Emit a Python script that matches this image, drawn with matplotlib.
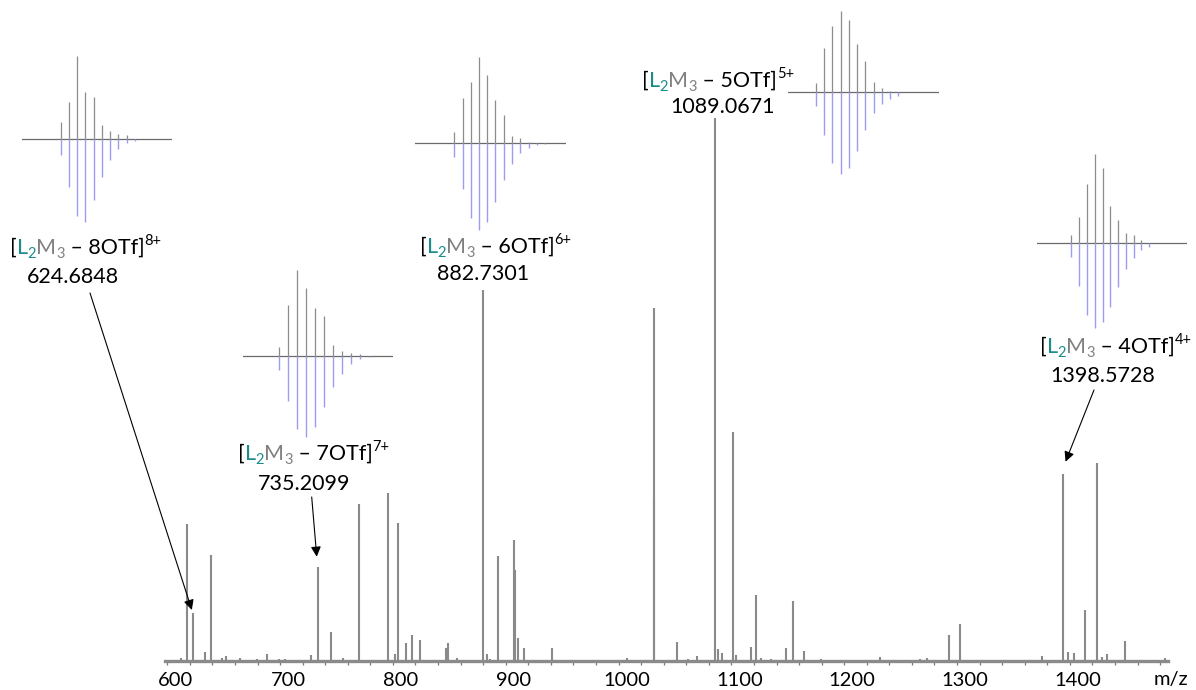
# Librerias

import matplotlib
matplotlib.use("Agg")
import matplotlib.pyplot as plt

# Datos del espectro (m/z, intensidad relativa %)

Pico_MZ = [605.0, 610.4, 616.2, 626.6, 631.9, 641.5, 645.2, 657.6, 672.6, 681.2,
           692.0, 697.4, 720.5, 726.4, 737.9, 748.8, 762.7, 788.4, 794.9, 797.3,
           804.6, 809.7, 817.0, 840.0, 841.8, 849.5, 873.1, 876.1, 879.0, 886.4,
           900.5, 901.2, 903.5, 909.1, 933.7, 1000.1, 1024.3, 1024.6, 1044.4, 1054.4,
           1062.4, 1078.9, 1080.9, 1085.1, 1094.5, 1096.9, 1110.2, 1114.6, 1119.7, 1128.5,
           1141.2, 1147.7, 1157.4, 1172.2, 1225.1, 1259.9, 1266.1, 1285.6, 1295.9, 1368.6,
           1386.8, 1391.3, 1396.6, 1406.3, 1416.7, 1421.7, 1426.1, 1442.3, 1476.9]
Pico_Int = [0.6, 25.2, 8.8, 1.7, 19.5, 0.5, 0.9, 0.5, 0.3, 1.3,
            0.3, 0.4, 1.1, 17.3, 5.3, 0.5, 28.9, 30.9, 1.2, 25.4,
            3.3, 4.8, 3.9, 2.4, 3.3, 0.6, 68.3, 1.3, 0.4, 19.3,
            22.3, 16.8, 4.2, 2.4, 2.4, 0.6, 65.0, 30.0, 3.5, 0.4,
            0.9, 100.0, 2.2, 1.5, 42.2, 1.1, 2.6, 12.2, 0.5, 0.4,
            2.4, 11.0, 1.8, 0.4, 0.7, 0.4, 0.5, 4.8, 6.8, 0.9,
            34.4, 1.7, 1.5, 9.4, 36.5, 0.7, 1.3, 3.7, 0.5]

Etiquetas_X = [600, 700, 800, 900, 1000, 1100, 1200, 1300, 1400]

# Patrones isotopicos (experimental arriba, simulado abajo, % del maximo experimental)

Iso8_MZ = [624.31, 624.43, 624.56, 624.68, 624.81, 624.93, 625.06, 625.18, 625.31, 625.43]
Iso8_Exp = [21, 44, 100, 57, 50, 17, 10, 6, 5, 0]
Iso8_Sim = [19, 58, 92, 100, 73, 46, 25, 12, 5, 2]

Iso7_MZ = [734.78, 734.92, 735.07, 735.21, 735.35, 735.50, 735.64, 735.78, 735.92, 736.07, 736.21]
Iso7_Exp = [10, 59, 100, 79, 56, 46, 12, 5, 3, 2, 0]
Iso7_Sim = [17, 53, 86, 95, 83, 60, 37, 21, 10, 4, 2]

Iso6_MZ = [882.23, 882.40, 882.56, 882.73, 882.90, 883.06, 883.23, 883.40, 883.56, 883.73, 883.90, 884.06]
Iso6_Exp = [13, 52, 71, 100, 79, 50, 32, 8, 6, 1, 0, 0]
Iso6_Sim = [17, 54, 88, 102, 92, 69, 43, 25, 12, 6, 3, 1]

Iso5_MZ = [1088.47, 1088.67, 1088.87, 1089.07, 1089.27, 1089.47, 1089.67, 1089.87, 1090.07, 1090.27, 1090.47]
Iso5_Exp = [11, 54, 81, 100, 89, 59, 38, 13, 5, 2, 0]
Iso5_Sim = [17, 53, 87, 100, 93, 72, 46, 25, 14, 8, 4]

Iso4_MZ = [1397.82, 1398.07, 1398.32, 1398.57, 1398.82, 1399.07, 1399.32, 1399.57, 1399.82, 1400.07, 1400.32]
Iso4_Exp = [9, 29, 66, 100, 84, 42, 26, 11, 9, 3, 0]
Iso4_Sim = [16, 49, 82, 97, 90, 73, 50, 30, 17, 8, 5]

Iones = ["8", "7", "6", "5", "4"]
Valores = ["624.6848", "735.2099", "882.7301", "1089.0671", "1398.5728"]

# Estilo

FUENTE = "Lato"
GRIS = "#8a8a8a"
TEAL = "#1a8c8c"
GRIS_M = "#808080"
AZUL = "#9c9cf2"
W, H = 1196, 690

fig = plt.figure(figsize=(W / 100, H / 100), dpi=100)

# Espectro principal

ax = fig.add_axes([165 / W, 29 / H, 1003 / W, 543 / H])
ax.vlines(Pico_MZ, 0, Pico_Int, color=GRIS, lw=1.5)
ax.set_xlim(591, 1480)
ax.set_ylim(0, 100)
for s in ["top", "right", "left"]:
    ax.spines[s].set_visible(False)
ax.spines["bottom"].set_color(GRIS)
ax.spines["bottom"].set_linewidth(2.4)
ax.set_yticks([])
ax.set_xticks(Etiquetas_X)
ax.set_xticklabels([str(v) for v in Etiquetas_X], fontsize=14.5, family=FUENTE)
ax.set_xticks(range(593, 1480, 20), minor=True)
ax.tick_params(axis="x", which="major", length=0, pad=8)
ax.tick_params(axis="x", which="minor", length=3, width=0.9, color="#777777")
fig.text(1171 / W, 1 - 685 / H, "m/z", fontsize=14.5, family=FUENTE, ha="center", va="baseline")

# Recuadros con patrones isotopicos

def patron(x0, x1, yb, escala, xlim, mz, exp, sim):
    h = escala * 1.1
    a = fig.add_axes([x0 / W, 1 - (yb + h) / H, (x1 - x0) / W, 2 * h / H])
    a.axhline(0, color="#6a6a6a", lw=0.9)
    a.vlines(mz, 0, exp, color="#8c8c8c", lw=0.9)
    a.vlines(mz, 0, [-v for v in sim], color=AZUL, lw=1.0)
    a.set_xlim(xlim)
    a.set_ylim(-110, 110)
    a.axis("off")

patron(21.7, 171.7, 139, 83.3, (623.72, 625.99), Iso8_MZ, Iso8_Exp, Iso8_Sim)
patron(243.3, 393.3, 355.7, 85.7, (734.22, 736.59), Iso7_MZ, Iso7_Exp, Iso7_Sim)
patron(415, 565.7, 142.7, 86, (881.44, 884.48), Iso6_MZ, Iso6_Exp, Iso6_Sim)
patron(788.3, 939.3, 92.3, 81.3, (1087.80, 1091.46), Iso5_MZ, Iso5_Exp, Iso5_Sim)
patron(1037.3, 1186.7, 242.7, 88.4, (1396.72, 1401.53), Iso4_MZ, Iso4_Exp, Iso4_Sim)

# Etiquetas de los iones

R = fig.canvas.get_renderer()

def formula(x0, y0, y1, dx, n, valor):
    partes = [("[", "black", 15.5, 0), ("L", TEAL, 15.5, 0), ("2", TEAL, 10.5, -4),
              ("M", GRIS_M, 15.5, 0), ("3", GRIS_M, 10.5, -4),
              (" \u2013 " + n + "OTf]", "black", 15.5, 0), (n + "+", "black", 10.5, 9)]
    x = x0
    for s, c, size, dy in partes:
        t = fig.text(x / W, 1 - (y0 - dy) / H, s, color=c, fontsize=size,
                     family=FUENTE, ha="left", va="baseline")
        x += t.get_window_extent(R).width
    fig.text((x0 + dx) / W, 1 - y1 / H, valor, fontsize=15.5, family=FUENTE,
             ha="left", va="baseline")

formula(10, 254, 283, 17, Iones[0], Valores[0])
formula(238, 460, 490, 20, Iones[1], Valores[1])
formula(420, 253, 280, 17, Iones[2], Valores[2])
formula(642, 87, 113, 28, Iones[3], Valores[3])
formula(1040, 353, 382, 10, Iones[4], Valores[4])

# Flechas

flecha = dict(arrowstyle="-|>", color="black", lw=0.8, mutation_scale=15, shrinkA=0, shrinkB=0)
ax.annotate("", xy=(614.8, 9.4), xycoords="data", xytext=(90, H - 293),
            textcoords="figure pixels", arrowprops=flecha)
ax.annotate("", xy=(725.5, 19.2), xycoords="data", xytext=(311.7, H - 497),
            textcoords="figure pixels", arrowprops=flecha)
ax.annotate("", xy=(1389.2, 36.7), xycoords="data", xytext=(1094, H - 390),
            textcoords="figure pixels", arrowprops=flecha)

fig.savefig("out.png", dpi=100)
